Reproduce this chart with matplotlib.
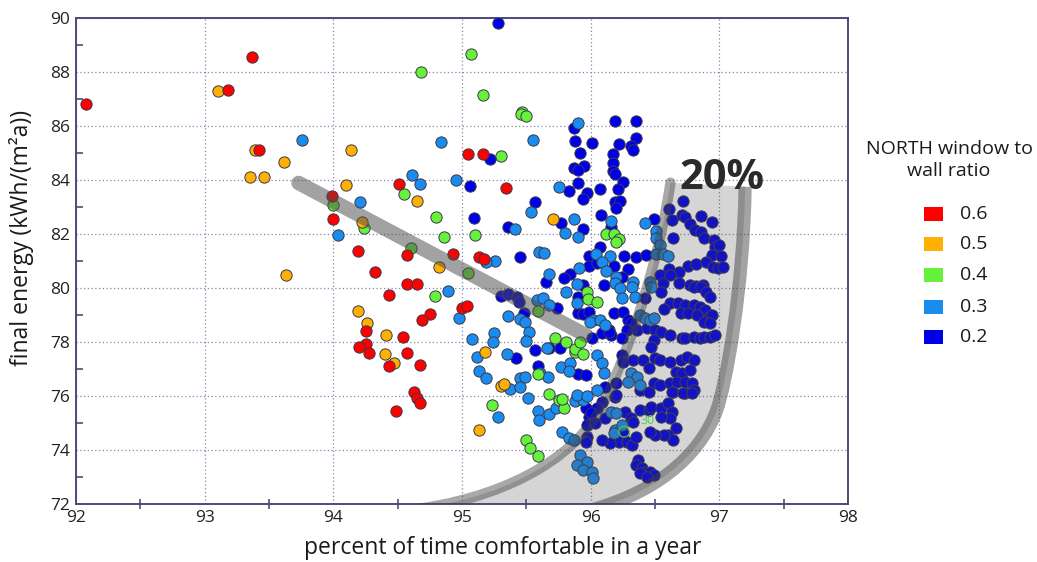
import matplotlib
matplotlib.use("Agg")
import matplotlib.pyplot as plt
from matplotlib.patches import Rectangle, PathPatch
from matplotlib.path import Path
import numpy as np

plt.rcParams['font.family'] = ['Open Sans', 'DejaVu Sans']

# ---------------- data ----------------
ratio_labels = ["0.6", "0.5", "0.4", "0.3", "0.2"]
ratio_colors = ["#ff0000", "#ffb000", "#66f23a", "#1a8cf0", "#0000e8"]

red_x = [92.08, 93.37, 93.18, 93.42, 93.99, 94.0, 94.19, 94.32, 94.51, 94.57, 94.57, 94.65,
         94.43, 94.25, 94.25, 94.2, 94.28, 94.54, 94.57, 94.43, 94.67, 94.63, 94.65, 94.67,
         94.49, 94.75, 94.69, 95.05, 95.16, 95.34, 94.93, 95.13, 95.17, 95.0, 95.04]
red_y = [86.8, 88.57, 87.32, 85.1, 83.41, 82.56, 81.38, 80.6, 83.85, 81.22, 80.16, 80.16,
         79.74, 78.42, 77.93, 77.8, 77.6, 78.19, 77.6, 77.1, 77.15, 76.15, 75.94, 75.73,
         75.43, 79.05, 78.8, 84.95, 84.97, 83.72, 81.26, 81.14, 81.09, 79.25, 79.33]

orange_x = [93.1, 93.39, 93.35, 93.46, 93.62, 93.63, 94.14, 94.1, 94.22, 94.65, 94.19, 94.26,
            94.41, 94.4, 94.47, 94.82, 95.71, 95.18, 95.3, 95.33, 95.13]
orange_y = [87.3, 85.1, 84.11, 84.11, 84.68, 80.49, 85.1, 83.81, 82.46, 83.23, 79.14, 78.72,
            78.25, 77.54, 77.23, 80.77, 82.56, 77.62, 76.38, 76.43, 74.74]

green_x = [94.68, 94.0, 94.24, 94.55, 94.6, 94.8, 94.86, 94.79, 95.07, 95.16, 95.47, 95.46,
           95.5, 95.3, 95.1, 95.05, 96.12, 96.18, 96.22, 96.2, 95.97, 95.98, 96.05, 95.59,
           95.72, 95.81, 95.88, 95.88, 95.92, 95.94, 95.59, 95.68, 95.75, 95.79, 95.78, 95.23,
           95.5, 95.53, 95.59]
green_y = [88.0, 83.06, 82.22, 83.48, 81.47, 82.63, 81.9, 79.72, 88.66, 87.14, 86.53, 86.43,
           86.38, 84.9, 81.95, 80.54, 81.99, 81.99, 81.83, 81.69, 79.86, 79.59, 79.47, 79.15,
           78.16, 77.99, 77.64, 77.74, 78.01, 77.54, 76.81, 76.06, 75.85, 75.57, 75.89, 75.67,
           74.37, 74.06, 73.79]

lblue_x = [93.76, 94.21, 94.04, 94.61, 94.67, 94.89, 95.9, 94.84, 95.55, 94.95, 95.75, 95.54,
           95.87, 95.8, 95.9, 96.16, 96.04, 96.15, 96.09, 96.12, 95.91, 95.68, 95.41, 95.6,
           95.64, 95.26, 95.19, 96.42, 96.51, 96.51, 96.54, 96.51, 96.56, 96.6, 96.46, 96.47,
           95.81, 95.89, 95.89, 96.02, 95.58, 95.63, 95.68, 94.98, 95.36, 95.45, 95.49, 95.52,
           95.25, 95.24, 95.08, 95.5, 95.66, 95.12, 95.35, 95.13, 95.19, 95.37, 95.45, 95.49,
           95.45, 95.51, 95.61, 95.67, 95.59, 95.6, 95.68, 95.73, 95.77, 95.84, 95.83, 95.88,
           95.94, 95.28, 95.78, 95.83, 95.87, 96.05, 95.92, 95.97, 95.89, 95.94, 96.01, 96.02,
           95.89, 95.97, 96.2, 96.19, 96.23, 96.33, 96.32, 96.24, 96.345, 96.38, 96.42, 96.46,
           96.49, 95.995, 96.07, 96.11, 96.05, 96.09, 96.1, 96.31, 96.36, 96.29, 96.38, 96.16,
           96.2, 96.19, 96.24, 96.18]
lblue_y = [85.49, 83.17, 81.95, 84.19, 83.85, 79.88, 86.1, 85.41, 85.47, 84.0, 83.74, 82.83,
           82.56, 82.03, 81.9, 82.49, 81.26, 81.19, 80.97, 80.64, 80.75, 80.52, 82.19, 81.32,
           81.28, 81.0, 80.97, 82.4, 82.12, 81.84, 81.59, 81.26, 81.26, 81.19, 80.23, 80.05,
           79.84, 80.14, 79.43, 78.81, 79.56, 79.64, 79.37, 78.88, 78.97, 78.85, 78.73, 78.38,
           78.32, 78.01, 78.11, 78.05, 77.77, 77.46, 77.54, 76.93, 76.66, 76.25, 76.68, 76.72,
           76.32, 75.91, 76.84, 76.72, 75.44, 75.11, 75.33, 75.54, 77.06, 77.21, 76.93, 75.81,
           75.85, 75.21, 74.68, 74.46, 74.37, 76.22, 73.81, 73.54, 73.44, 73.26, 73.2, 72.97,
           76.04, 76.0, 80.42, 80.17, 79.99, 80.23, 80.05, 79.62, 79.68, 79.0, 78.88, 78.82,
           78.88, 78.75, 78.82, 78.63, 77.52, 77.21, 76.84, 76.84, 76.72, 76.53, 76.41, 75.42,
           75.36, 74.74, 74.93, 74.62]

blue_x = [95.28, 95.87, 95.88, 96.01, 95.22, 95.92, 95.95, 95.87, 95.9, 95.06, 95.83, 95.9,
          95.97, 95.94, 95.57, 96.07, 96.19, 96.35, 96.35, 96.22, 96.31, 96.33, 96.17, 96.17,
          96.17, 96.19, 96.25, 96.21, 96.19, 96.23, 96.2, 96.08, 95.77, 95.94, 96.16, 96.07,
          95.99, 96.18, 95.99, 95.84, 95.79, 95.65, 96.26, 96.35, 96.43, 96.29, 96.24, 96.49,
          96.61, 96.72, 96.63, 96.71, 96.73, 96.77, 96.86, 96.94, 96.81, 96.86, 96.88, 96.64,
          96.96, 96.97, 97.0, 96.94, 97.01, 96.76, 96.82, 96.9, 96.95, 96.99, 97.03, 96.61,
          96.69, 96.54, 96.56, 96.69, 96.77, 96.82, 96.87, 95.09, 95.36, 95.45, 95.94, 95.9,
          95.9, 95.94, 95.99, 95.3, 95.36, 95.43, 95.44, 95.74, 95.48, 95.57, 95.76, 95.68,
          95.42, 95.59, 95.9, 95.96, 95.96, 95.99, 95.97, 95.97, 95.96,
          96.05, 96.1, 96.62, 96.55, 96.8, 96.86, 96.9, 96.93, 96.42, 96.62, 96.68, 96.73,
          96.8, 96.85, 96.89, 96.92, 96.94, 96.57, 96.7, 96.76, 96.83, 96.88, 96.93, 96.18,
          96.25, 96.29, 96.14, 96.16, 96.31, 96.28, 96.36, 96.44, 96.5, 96.55, 96.62, 96.71,
          96.73, 96.8, 96.85, 96.88, 96.93, 96.97, 96.01, 96.09, 96.14, 96.24, 96.49, 96.47,
          96.24, 96.25, 96.33, 96.41, 96.5, 96.54, 96.45, 96.62, 96.7, 96.75, 96.8, 96.66,
          96.71, 96.77, 96.2, 96.11, 96.49, 96.54, 96.62, 96.67, 96.73, 96.79, 96.8, 96.73,
          96.64, 96.19,
          96.09, 96.05, 96.0, 96.03, 96.11, 96.27, 96.31, 96.33, 96.38, 96.45, 96.47, 96.55,
          96.6, 96.63, 96.62, 96.55, 96.66, 96.6, 96.64, 96.57, 96.5, 96.46, 96.25, 96.22,
          96.28, 96.32, 96.15, 96.09, 96.35, 96.37, 96.35, 96.4, 96.42, 96.46, 96.49, 96.38,
          96.44, 96.2, 96.38, 96.45, 96.63, 96.72, 96.79]
blue_y = [89.8, 85.94, 85.44, 85.38, 84.78, 84.99, 84.53, 84.43, 84.36, 83.77, 83.58, 83.88,
          83.51, 83.29, 83.2, 83.67, 86.2, 86.2, 85.56, 85.33, 85.27, 85.12, 84.96, 84.62,
          84.35, 84.22, 83.94, 83.66, 83.17, 83.22, 82.97, 82.7, 82.42, 82.19, 82.27, 81.53,
          81.19, 80.83, 80.83, 80.52, 80.38, 80.21, 81.19, 81.16, 81.21, 80.69, 80.4, 82.54,
          82.91, 83.23, 82.52, 82.7, 82.62, 82.36, 82.67, 82.43, 82.15, 82.09, 81.84, 81.86,
          81.78, 81.53, 81.59, 81.22, 81.19, 80.83, 80.88, 80.97, 80.79, 80.73, 80.79, 80.69,
          80.6, 80.48, 80.17, 80.17, 80.11, 80.09, 80.11, 82.58, 82.25, 81.14, 80.11, 79.68,
          79.06, 79.04, 79.1, 79.69, 79.78, 79.66, 79.47, 79.27, 79.06, 77.7, 77.79, 77.77,
          77.39, 77.12, 76.8, 76.78, 75.54, 75.23, 74.93, 74.49, 74.31,
          80.91, 80.11, 80.48, 79.86, 80.05, 80.05, 79.86, 79.68, 79.62, 79.43, 79.43, 79.37,
          79.37, 79.31, 79.19, 78.94, 79.0, 79.21, 79.06, 79.06, 79.0, 78.75, 78.69, 79.09,
          79.12, 78.82, 78.44, 78.26, 78.69, 78.44, 78.44, 78.51, 78.44, 78.38, 78.26, 78.14,
          78.14, 78.2, 78.14, 78.2, 78.2, 78.26, 78.14, 78.32, 78.38, 78.14, 78.07, 77.83,
          77.52, 77.27, 77.33, 77.33, 77.39, 77.33, 77.02, 77.27, 77.33, 77.46, 77.33, 76.9,
          76.84, 76.96, 76.47, 76.35, 76.47, 76.41, 76.47, 76.53, 76.53, 76.47, 76.22, 76.1,
          76.16, 75.98,
          75.79, 75.54, 75.36, 74.99, 75.17, 75.42, 75.17, 75.05, 75.48, 75.48, 75.6, 75.54,
          75.73, 75.42, 75.17, 75.23, 74.8, 74.56, 74.37, 74.56, 74.56, 74.68, 74.62, 74.31,
          74.31, 74.19, 74.25, 74.37, 74.49, 73.63, 73.44, 73.32, 73.2, 73.2, 73.07, 73.14,
          73.01, 76.04, 76.22, 76.16, 76.16, 76.1, 76.1]

series_x = [red_x, orange_x, green_x, lblue_x, blue_x]
series_y = [red_y, orange_y, green_y, lblue_y, blue_y]

x_ticks = [92, 93, 94, 95, 96, 97, 98]
y_ticks = [72, 74, 76, 78, 80, 82, 84, 86, 88, 90]

# annotation shapes (decoration): trend band + crescent (cubic Bezier control points)
band_x = [93.73, 95.96]
band_y = [83.89, 78.26]
inner_ctrl = [(94.55, 71.75), (95.3, 72.15), (95.85, 73.6), (96.07, 75.48),
              (96.18, 76.42), (96.5, 80.0), (96.62, 83.9)]
outer_ctrl = [(95.85, 71.6), (96.5, 72.25), (96.85, 73.8), (96.98, 75.48),
              (97.05, 76.4), (97.19, 80.0), (97.2, 83.75)]

# ---------------- figure ----------------
W, H = 1037, 562
fig = plt.figure(figsize=(W / 100, H / 100), dpi=100)
fig.patch.set_facecolor('white')
ax = fig.add_axes([76 / W, 1 - 504 / H, (848 - 76) / W, (504 - 18) / H])

spine_col = '#4a4a7c'
for order, (xs, ys, c) in enumerate(zip(series_x[::-1], series_y[::-1], ratio_colors[::-1])):
    ax.scatter(xs, ys, s=66, c=c, edgecolors='#3a3a4a', linewidths=0.7, zorder=3 + order * 0.1)

C4 = Path.CURVE4
inner_codes = [Path.MOVETO] + [C4] * 6
outer_codes = [Path.MOVETO] + [C4] * 6
# filled crescent: inner curve up, straight across top, outer curve down
fill_verts = inner_ctrl + [outer_ctrl[-1]] + outer_ctrl[::-1][1:] + [inner_ctrl[0]]
fill_codes = inner_codes + [Path.LINETO] + [C4] * 6 + [Path.CLOSEPOLY]
ax.add_patch(PathPatch(Path(fill_verts, fill_codes), facecolor='#505050', alpha=0.24,
                       edgecolor='none', zorder=5))
ax.add_patch(PathPatch(Path(inner_ctrl, inner_codes), facecolor='none', edgecolor='#404040',
                       alpha=0.45, lw=7.5, capstyle='round', zorder=5.1))
ax.add_patch(PathPatch(Path(outer_ctrl, outer_codes), facecolor='none', edgecolor='#404040',
                       alpha=0.48, lw=9.5, capstyle='butt', zorder=5.1))
# trend band
ax.plot(band_x, band_y, color='#4d4d4d', alpha=0.52, lw=10.5, solid_capstyle='round', zorder=5.2)

ax.text(97.02, 84.07, '20%', fontsize=30, fontweight='bold', color='#2a2a2a',
        ha='center', va='center', zorder=6)
ax.text(96.44, 75.1, '30', fontsize=9, color='#4ad24a', ha='center', va='center', zorder=6)
ax.scatter([96.26], [74.68], s=60, facecolors='none', edgecolors='#4ad24a', linewidths=0.8, zorder=6)

ax.set_xlim(92, 98)
ax.set_ylim(72, 90)
ax.set_xticks(x_ticks)
ax.set_yticks(y_ticks)
ax.set_xticks(np.arange(92.5, 98, 1.0), minor=True)
ax.set_yticks(np.arange(73, 90, 2.0), minor=True)
ax.grid(True, which='major', linestyle=(0, (1, 2)), color='#8585b0', lw=0.9, zorder=0)
ax.set_axisbelow(True)
for sp in ax.spines.values():
    sp.set_color(spine_col)
    sp.set_linewidth(1.4)
ax.tick_params(which='both', direction='in', color=spine_col, width=1.2,
               labelsize=12.5, labelcolor='#222222', pad=4)
ax.tick_params(which='major', length=0)
ax.tick_params(which='minor', length=5)
ax.tick_params(axis='x', which='minor', direction='inout', length=7)

fig.text(503 / W, 1 - 548 / H, 'percent of time comfortable in a year', fontsize=16.5,
         ha='center', va='center', color='#1a1a1a')
fig.text(22 / W, 1 - 238 / H, 'final energy (kWh/(m²a))', fontsize=16.5, rotation=90,
         ha='center', va='center', color='#1a1a1a')

# legend
fig.text(949 / W, 1 - 160 / H, 'NORTH window to\nwall ratio', fontsize=14, ha='center',
         va='center', linespacing=1.3, color='#1a1a1a')
leg_y = [214, 244, 275, 307, 337]
for lab, col, yy in zip(ratio_labels, ratio_colors, leg_y):
    fig.patches.append(Rectangle(((933 - 9.5) / W, 1 - (yy + 7) / H), 19 / W, 14 / H,
                                 transform=fig.transFigure, facecolor=col, edgecolor='none'))
    fig.text(960 / W, 1 - yy / H, lab, fontsize=14, ha='left', va='center', color='#1a1a1a')

fig.savefig('out.png', dpi=100)
